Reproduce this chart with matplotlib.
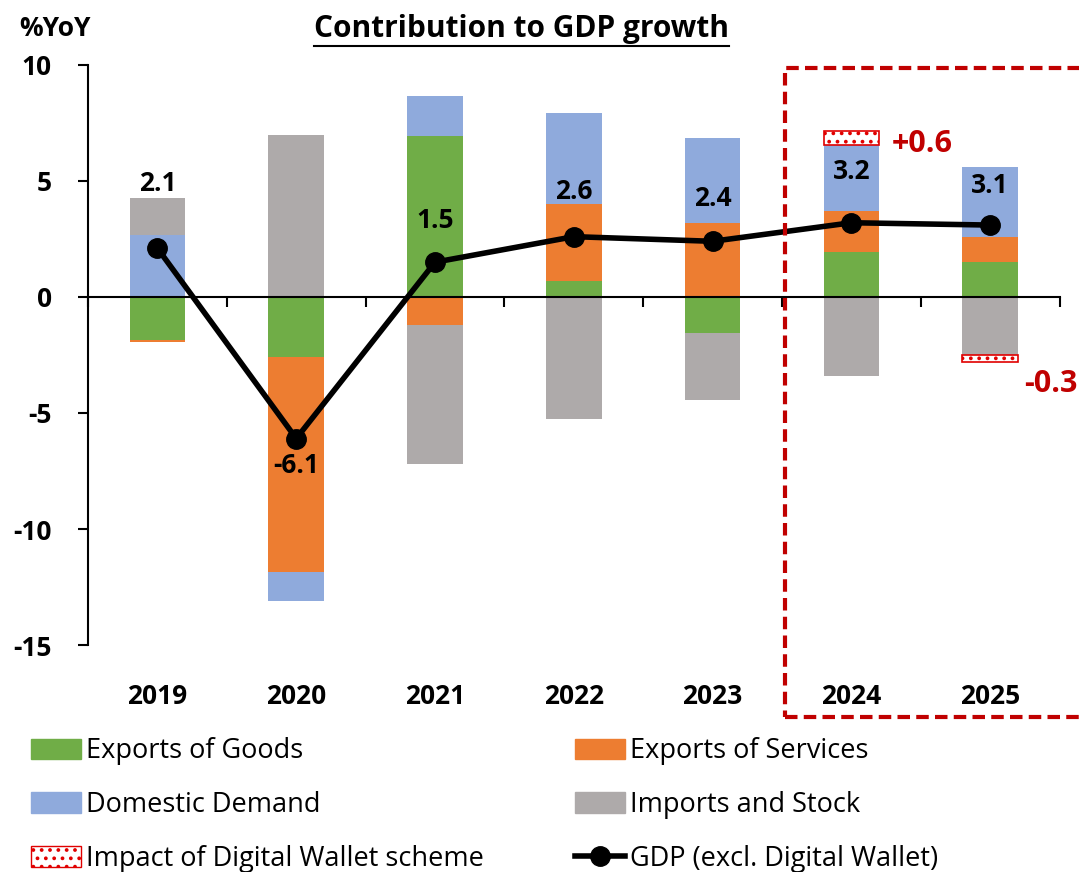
import matplotlib
matplotlib.use("Agg")
import numpy as np
import matplotlib.pyplot as plt
from matplotlib.patches import Patch, Rectangle
from matplotlib.lines import Line2D

plt.rcParams['font.family'] = ['Open Sans', 'DejaVu Sans']
plt.rcParams['axes.unicode_minus'] = False
plt.rcParams['hatch.linewidth'] = 1.5

years = ['2019', '2020', '2021', '2022', '2023', '2024', '2025']
goods = [-1.85, -2.6, 6.95, 0.7, -1.55, 1.95, 1.5]
services = [-0.1, -9.25, -1.2, 3.3, 3.2, 1.75, 1.1]
domestic = [2.65, -1.25, 1.7, 3.95, 3.65, 2.85, 3.0]
imports = [1.6, 7.0, -6.0, -5.25, -2.9, -3.4, -2.5]
wallet = [0, 0, 0, 0, 0, 0.6, -0.3]
gdp = [2.1, -6.1, 1.5, 2.6, 2.4, 3.2, 3.1]
wallet_labels = ['+0.6', '-0.3']

colors = {'goods': '#70AD47', 'services': '#ED7D31', 'domestic': '#8FAADC',
          'imports': '#AEAAAA'}

fig = plt.figure(figsize=(10.79, 8.72), dpi=100)
ax = fig.add_axes([0.0816, 0.2603, 0.9004, 0.6652])

x = np.arange(len(years))
w = 0.4
pos_bottom = np.zeros(len(years))
neg_bottom = np.zeros(len(years))

for key, vals in [('goods', goods), ('services', services),
                  ('domestic', domestic), ('imports', imports)]:
    vals = np.array(vals)
    bottoms = np.where(vals >= 0, pos_bottom, neg_bottom)
    ax.bar(x, vals, w, bottom=bottoms, color=colors[key], zorder=2)
    pos_bottom += np.where(vals >= 0, vals, 0)
    neg_bottom += np.where(vals < 0, vals, 0)

wv = np.array(wallet)
wb = np.where(wv >= 0, pos_bottom, neg_bottom)
mask = wv != 0
ax.bar(x[mask], wv[mask], w, bottom=wb[mask], facecolor='white',
       edgecolor='#E00000', hatch='..', linewidth=1.2, zorder=2)

ax.plot(x, gdp, color='black', lw=4, marker='o', markersize=14, zorder=4)

# gdp value labels
offsets = [65, -27, 42, 45, 43, 51, 40]
for xi, v, off in zip(x, gdp, offsets):
    ax.annotate(f'{v:.1f}', (xi, v), xytext=(0, off), textcoords='offset pixels',
                ha='center', va='center', fontsize=19, fontweight='bold', zorder=5)

# digital wallet labels
ax.text(5.51, 6.6, wallet_labels[0], color='#C00000', fontsize=22,
        fontweight='bold', ha='center', va='center')
fig.text(0.999, 0.56, wallet_labels[1], color='#C00000', fontsize=22,
         fontweight='bold', ha='right', va='center')

ax.set_xlim(-0.5, 6.5)
ax.set_ylim(-15, 10)
ax.set_yticks([10, 5, 0, -5, -10, -15])
ax.tick_params(axis='y', labelsize=19, length=7, width=1.5, pad=19)
for lab in ax.get_yticklabels():
    lab.set_fontweight('bold')

ax.spines['top'].set_visible(False)
ax.spines['right'].set_visible(False)
ax.spines['left'].set_linewidth(1.5)
ax.spines['bottom'].set_position(('data', 0))
ax.spines['bottom'].set_linewidth(1.5)
ax.set_xticks(x)
ax.set_xticks(np.arange(-0.5, 7, 1), minor=True)
ax.tick_params(axis='x', which='major', length=0, labelbottom=False)
ax.tick_params(axis='x', which='minor', length=7, width=1.5)
for xi, yr in zip(x, years):
    ax.text(xi, -17.2, yr, ha='center', va='center', fontsize=19,
            fontweight='bold', clip_on=False)

# dashed box around forecast years
ax.add_patch(Rectangle((4.52, -18.1), 2.5, 27.95, fill=False, ls=(0, (3, 1.5)),
                       lw=3, edgecolor='#C00000', clip_on=False, zorder=6))

fig.text(0.018, 0.967, '%YoY', fontsize=19, fontweight='bold', va='center')
title = fig.text(0.483, 0.967, 'Contribution to GDP growth', fontsize=21.5,
                 fontweight='bold', ha='center', va='center')
fig.canvas.draw()
bb = title.get_window_extent().transformed(fig.transFigure.inverted())
fig.add_artist(Line2D([bb.x0, bb.x1], [bb.y0 - 0.002, bb.y0 - 0.002],
                      color='black', lw=1.5, transform=fig.transFigure))

handles = [Patch(color=colors['goods']), Patch(color=colors['domestic']),
           Patch(facecolor='white', edgecolor='#E00000', hatch='..'),
           Patch(color=colors['services']), Patch(color=colors['imports']),
           Line2D([], [], color='black', lw=4, marker='o', markersize=14)]
labels = ['Exports of Goods', 'Domestic Demand', 'Impact of Digital Wallet scheme',
          'Exports of Services', 'Imports and Stock', 'GDP (excl. Digital Wallet)']
fig.legend(handles, labels, ncol=2, loc='upper left', bbox_to_anchor=(0.016, 0.170),
           frameon=False, fontsize=19.5, handlelength=1.85, handleheight=0.8,
           handletextpad=0.2, columnspacing=3.35, labelspacing=0.95, borderpad=0)

fig.savefig('out.png', dpi=100)
